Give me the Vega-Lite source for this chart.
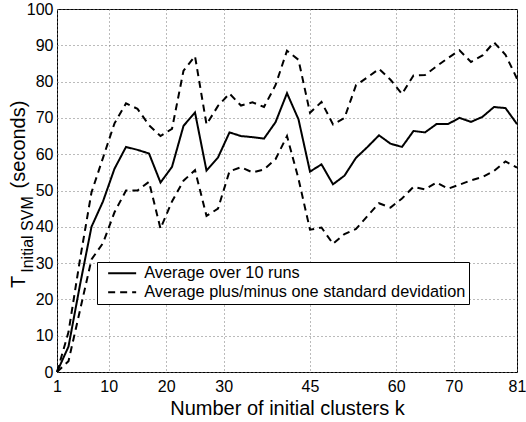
{
  "$schema": "https://vega.github.io/schema/vega-lite/v6.json",
  "width": 460,
  "height": 363,
  "autosize": {"type": "none"},
  "padding": {"left": 57, "top": 9, "right": 9, "bottom": 50},
  "background": "white",
  "config": {
    "font": "Liberation Sans",
    "view": {"stroke": "black", "strokeWidth": 1},
    "axis": {"labelColor": "black", "titleColor": "black", "titleFontWeight": "normal", "labelFont": "Liberation Sans", "titleFont": "Liberation Sans"}
  },
  "data": {
    "values": [
      {"k": 1, "series": "mean", "type": "Average over 10 runs", "value": 0},
      {"k": 3, "series": "mean", "type": "Average over 10 runs", "value": 7},
      {"k": 5, "series": "mean", "type": "Average over 10 runs", "value": 24},
      {"k": 7, "series": "mean", "type": "Average over 10 runs", "value": 40},
      {"k": 9, "series": "mean", "type": "Average over 10 runs", "value": 47},
      {"k": 11, "series": "mean", "type": "Average over 10 runs", "value": 56},
      {"k": 13, "series": "mean", "type": "Average over 10 runs", "value": 62},
      {"k": 15, "series": "mean", "type": "Average over 10 runs", "value": 61.2},
      {"k": 17, "series": "mean", "type": "Average over 10 runs", "value": 60.2},
      {"k": 19, "series": "mean", "type": "Average over 10 runs", "value": 52.2},
      {"k": 21, "series": "mean", "type": "Average over 10 runs", "value": 56.5},
      {"k": 23, "series": "mean", "type": "Average over 10 runs", "value": 67.8},
      {"k": 25, "series": "mean", "type": "Average over 10 runs", "value": 71.5},
      {"k": 27, "series": "mean", "type": "Average over 10 runs", "value": 55.5},
      {"k": 29, "series": "mean", "type": "Average over 10 runs", "value": 59.1},
      {"k": 31, "series": "mean", "type": "Average over 10 runs", "value": 66},
      {"k": 33, "series": "mean", "type": "Average over 10 runs", "value": 65},
      {"k": 35, "series": "mean", "type": "Average over 10 runs", "value": 64.7},
      {"k": 37, "series": "mean", "type": "Average over 10 runs", "value": 64.3},
      {"k": 39, "series": "mean", "type": "Average over 10 runs", "value": 68.8},
      {"k": 41, "series": "mean", "type": "Average over 10 runs", "value": 76.8},
      {"k": 43, "series": "mean", "type": "Average over 10 runs", "value": 69.6},
      {"k": 45, "series": "mean", "type": "Average over 10 runs", "value": 55.2},
      {"k": 47, "series": "mean", "type": "Average over 10 runs", "value": 57.2},
      {"k": 49, "series": "mean", "type": "Average over 10 runs", "value": 51.7},
      {"k": 51, "series": "mean", "type": "Average over 10 runs", "value": 54.1},
      {"k": 53, "series": "mean", "type": "Average over 10 runs", "value": 59},
      {"k": 55, "series": "mean", "type": "Average over 10 runs", "value": 62},
      {"k": 57, "series": "mean", "type": "Average over 10 runs", "value": 65.2},
      {"k": 59, "series": "mean", "type": "Average over 10 runs", "value": 62.9},
      {"k": 61, "series": "mean", "type": "Average over 10 runs", "value": 62},
      {"k": 63, "series": "mean", "type": "Average over 10 runs", "value": 66.4},
      {"k": 65, "series": "mean", "type": "Average over 10 runs", "value": 66},
      {"k": 67, "series": "mean", "type": "Average over 10 runs", "value": 68.3},
      {"k": 69, "series": "mean", "type": "Average over 10 runs", "value": 68.3},
      {"k": 71, "series": "mean", "type": "Average over 10 runs", "value": 70},
      {"k": 73, "series": "mean", "type": "Average over 10 runs", "value": 68.9},
      {"k": 75, "series": "mean", "type": "Average over 10 runs", "value": 70.3},
      {"k": 77, "series": "mean", "type": "Average over 10 runs", "value": 73},
      {"k": 79, "series": "mean", "type": "Average over 10 runs", "value": 72.7},
      {"k": 81, "series": "mean", "type": "Average over 10 runs", "value": 68.3},
      {"k": 1, "series": "upper", "type": "Average plus/minus one standard devidation", "value": 0},
      {"k": 3, "series": "upper", "type": "Average plus/minus one standard devidation", "value": 11},
      {"k": 5, "series": "upper", "type": "Average plus/minus one standard devidation", "value": 31},
      {"k": 7, "series": "upper", "type": "Average plus/minus one standard devidation", "value": 49.5},
      {"k": 9, "series": "upper", "type": "Average plus/minus one standard devidation", "value": 59},
      {"k": 11, "series": "upper", "type": "Average plus/minus one standard devidation", "value": 68.5},
      {"k": 13, "series": "upper", "type": "Average plus/minus one standard devidation", "value": 74},
      {"k": 15, "series": "upper", "type": "Average plus/minus one standard devidation", "value": 72.5},
      {"k": 17, "series": "upper", "type": "Average plus/minus one standard devidation", "value": 68},
      {"k": 19, "series": "upper", "type": "Average plus/minus one standard devidation", "value": 65},
      {"k": 21, "series": "upper", "type": "Average plus/minus one standard devidation", "value": 67},
      {"k": 23, "series": "upper", "type": "Average plus/minus one standard devidation", "value": 83},
      {"k": 25, "series": "upper", "type": "Average plus/minus one standard devidation", "value": 87},
      {"k": 27, "series": "upper", "type": "Average plus/minus one standard devidation", "value": 68.2},
      {"k": 29, "series": "upper", "type": "Average plus/minus one standard devidation", "value": 73.3},
      {"k": 31, "series": "upper", "type": "Average plus/minus one standard devidation", "value": 76.7},
      {"k": 33, "series": "upper", "type": "Average plus/minus one standard devidation", "value": 73.4},
      {"k": 35, "series": "upper", "type": "Average plus/minus one standard devidation", "value": 74.3},
      {"k": 37, "series": "upper", "type": "Average plus/minus one standard devidation", "value": 73},
      {"k": 39, "series": "upper", "type": "Average plus/minus one standard devidation", "value": 79},
      {"k": 41, "series": "upper", "type": "Average plus/minus one standard devidation", "value": 88.5},
      {"k": 43, "series": "upper", "type": "Average plus/minus one standard devidation", "value": 86},
      {"k": 45, "series": "upper", "type": "Average plus/minus one standard devidation", "value": 71.4},
      {"k": 47, "series": "upper", "type": "Average plus/minus one standard devidation", "value": 74.4},
      {"k": 49, "series": "upper", "type": "Average plus/minus one standard devidation", "value": 68.2},
      {"k": 51, "series": "upper", "type": "Average plus/minus one standard devidation", "value": 70},
      {"k": 53, "series": "upper", "type": "Average plus/minus one standard devidation", "value": 79},
      {"k": 55, "series": "upper", "type": "Average plus/minus one standard devidation", "value": 81.2},
      {"k": 57, "series": "upper", "type": "Average plus/minus one standard devidation", "value": 83.5},
      {"k": 59, "series": "upper", "type": "Average plus/minus one standard devidation", "value": 80.5},
      {"k": 61, "series": "upper", "type": "Average plus/minus one standard devidation", "value": 76.6},
      {"k": 63, "series": "upper", "type": "Average plus/minus one standard devidation", "value": 81.7},
      {"k": 65, "series": "upper", "type": "Average plus/minus one standard devidation", "value": 81.8},
      {"k": 67, "series": "upper", "type": "Average plus/minus one standard devidation", "value": 84.2},
      {"k": 69, "series": "upper", "type": "Average plus/minus one standard devidation", "value": 86.5},
      {"k": 71, "series": "upper", "type": "Average plus/minus one standard devidation", "value": 88.6},
      {"k": 73, "series": "upper", "type": "Average plus/minus one standard devidation", "value": 85.4},
      {"k": 75, "series": "upper", "type": "Average plus/minus one standard devidation", "value": 87.2},
      {"k": 77, "series": "upper", "type": "Average plus/minus one standard devidation", "value": 90.8},
      {"k": 79, "series": "upper", "type": "Average plus/minus one standard devidation", "value": 87.4},
      {"k": 81, "series": "upper", "type": "Average plus/minus one standard devidation", "value": 80.8},
      {"k": 1, "series": "lower", "type": "Average plus/minus one standard devidation", "value": 0},
      {"k": 3, "series": "lower", "type": "Average plus/minus one standard devidation", "value": 3},
      {"k": 5, "series": "lower", "type": "Average plus/minus one standard devidation", "value": 17},
      {"k": 7, "series": "lower", "type": "Average plus/minus one standard devidation", "value": 31},
      {"k": 9, "series": "lower", "type": "Average plus/minus one standard devidation", "value": 35.5},
      {"k": 11, "series": "lower", "type": "Average plus/minus one standard devidation", "value": 44},
      {"k": 13, "series": "lower", "type": "Average plus/minus one standard devidation", "value": 50},
      {"k": 15, "series": "lower", "type": "Average plus/minus one standard devidation", "value": 50},
      {"k": 17, "series": "lower", "type": "Average plus/minus one standard devidation", "value": 52.4},
      {"k": 19, "series": "lower", "type": "Average plus/minus one standard devidation", "value": 39.5},
      {"k": 21, "series": "lower", "type": "Average plus/minus one standard devidation", "value": 47},
      {"k": 23, "series": "lower", "type": "Average plus/minus one standard devidation", "value": 52.7},
      {"k": 25, "series": "lower", "type": "Average plus/minus one standard devidation", "value": 55.6},
      {"k": 27, "series": "lower", "type": "Average plus/minus one standard devidation", "value": 43},
      {"k": 29, "series": "lower", "type": "Average plus/minus one standard devidation", "value": 45},
      {"k": 31, "series": "lower", "type": "Average plus/minus one standard devidation", "value": 55.3},
      {"k": 33, "series": "lower", "type": "Average plus/minus one standard devidation", "value": 56.4},
      {"k": 35, "series": "lower", "type": "Average plus/minus one standard devidation", "value": 55},
      {"k": 37, "series": "lower", "type": "Average plus/minus one standard devidation", "value": 55.8},
      {"k": 39, "series": "lower", "type": "Average plus/minus one standard devidation", "value": 58.6},
      {"k": 41, "series": "lower", "type": "Average plus/minus one standard devidation", "value": 65},
      {"k": 43, "series": "lower", "type": "Average plus/minus one standard devidation", "value": 53.2},
      {"k": 45, "series": "lower", "type": "Average plus/minus one standard devidation", "value": 39.2},
      {"k": 47, "series": "lower", "type": "Average plus/minus one standard devidation", "value": 39.8},
      {"k": 49, "series": "lower", "type": "Average plus/minus one standard devidation", "value": 35.3},
      {"k": 51, "series": "lower", "type": "Average plus/minus one standard devidation", "value": 38},
      {"k": 53, "series": "lower", "type": "Average plus/minus one standard devidation", "value": 39.4},
      {"k": 55, "series": "lower", "type": "Average plus/minus one standard devidation", "value": 43},
      {"k": 57, "series": "lower", "type": "Average plus/minus one standard devidation", "value": 46.5},
      {"k": 59, "series": "lower", "type": "Average plus/minus one standard devidation", "value": 45.3},
      {"k": 61, "series": "lower", "type": "Average plus/minus one standard devidation", "value": 47.8},
      {"k": 63, "series": "lower", "type": "Average plus/minus one standard devidation", "value": 51},
      {"k": 65, "series": "lower", "type": "Average plus/minus one standard devidation", "value": 50.3},
      {"k": 67, "series": "lower", "type": "Average plus/minus one standard devidation", "value": 52.2},
      {"k": 69, "series": "lower", "type": "Average plus/minus one standard devidation", "value": 50.5},
      {"k": 71, "series": "lower", "type": "Average plus/minus one standard devidation", "value": 51.6},
      {"k": 73, "series": "lower", "type": "Average plus/minus one standard devidation", "value": 52.8},
      {"k": 75, "series": "lower", "type": "Average plus/minus one standard devidation", "value": 53.7},
      {"k": 77, "series": "lower", "type": "Average plus/minus one standard devidation", "value": 55.4},
      {"k": 79, "series": "lower", "type": "Average plus/minus one standard devidation", "value": 58},
      {"k": 81, "series": "lower", "type": "Average plus/minus one standard devidation", "value": 56.3}
    ]
  },
  "encoding": {
    "x": {
      "field": "k",
      "type": "quantitative",
      "scale": {"domain": [1, 81], "nice": false, "zero": false},
      "axis": {
        "values": [1, 10, 20, 30, 45, 60, 70, 81],
        "labelFontSize": 16,
        "labelPadding": 6,
        "labelFlush": false,
        "ticks": false,
        "domain": false,
        "grid": true,
        "gridDash": [1, 3],
        "gridColor": "#777777",
        "gridWidth": 1,
        "title": "Number of initial clusters k",
        "titleFontSize": 20,
        "titleY": 26,
        "titleBaseline": "top"
      }
    },
    "strokeDash": {
      "field": "type",
      "type": "nominal",
      "scale": {
        "domain": ["Average over 10 runs", "Average plus/minus one standard devidation"],
        "range": [[1, 0], [7, 5]]
      },
      "legend": {
        "orient": "none",
        "legendX": 40,
        "legendY": 253,
        "title": null,
        "strokeColor": "black",
        "fillColor": "white",
        "padding": 3,
        "symbolType": "M-2,0H2",
        "symbolSize": 196,
        "symbolStrokeWidth": 2,
        "symbolStrokeColor": "black",
        "symbolOffset": 14,
        "labelOffset": 14,
        "labelFontSize": 16.3,
        "labelColor": "black",
        "labelLimit": 500,
        "rowPadding": 2
      }
    }
  },
  "layer": [
    {
      "transform": [{"filter": "datum.series === 'mean'"}],
      "mark": {"type": "line", "color": "black", "strokeWidth": 2},
      "encoding": {
        "y": {
          "field": "value",
          "type": "quantitative",
          "scale": {"domain": [0, 100], "nice": false},
          "axis": {
            "orient": "left",
            "values": [0, 10, 20, 30, 40, 50, 60, 70, 80, 90, 100],
            "labelFontSize": 16,
            "labelPadding": 4,
            "ticks": false,
            "domain": false,
            "grid": true,
            "gridDash": [1, 3],
            "gridColor": "#777777",
            "gridWidth": 1,
            "title": "(seconds)",
            "titleFontSize": 20,
            "titleAngle": 270,
            "titleAlign": "center",
            "titleBaseline": "alphabetic",
            "titleX": -33,
            "titleY": 135
          }
        }
      }
    },
    {
      "transform": [{"filter": "datum.series === 'upper'"}],
      "mark": {"type": "line", "color": "black", "strokeWidth": 2},
      "encoding": {
        "y": {
          "field": "value",
          "type": "quantitative",
          "scale": {"domain": [0, 100], "nice": false},
          "axis": {
            "orient": "left",
            "labels": false,
            "ticks": false,
            "domain": false,
            "grid": false,
            "title": "T",
            "titleFontSize": 20,
            "titleAngle": 270,
            "titleAlign": "center",
            "titleBaseline": "alphabetic",
            "titleX": -33,
            "titleY": 272.5
          }
        }
      }
    },
    {
      "transform": [{"filter": "datum.series === 'lower'"}],
      "mark": {"type": "line", "color": "black", "strokeWidth": 2},
      "encoding": {
        "y": {
          "field": "value",
          "type": "quantitative",
          "scale": {"domain": [0, 100], "nice": false},
          "axis": {
            "orient": "left",
            "labels": false,
            "ticks": false,
            "domain": false,
            "grid": false,
            "title": "Initial SVM",
            "titleFontSize": 16,
            "titleAngle": 270,
            "titleAlign": "center",
            "titleBaseline": "alphabetic",
            "titleX": -25,
            "titleY": 225
          }
        }
      }
    }
  ],
  "resolve": {"axis": {"y": "independent"}}
}
